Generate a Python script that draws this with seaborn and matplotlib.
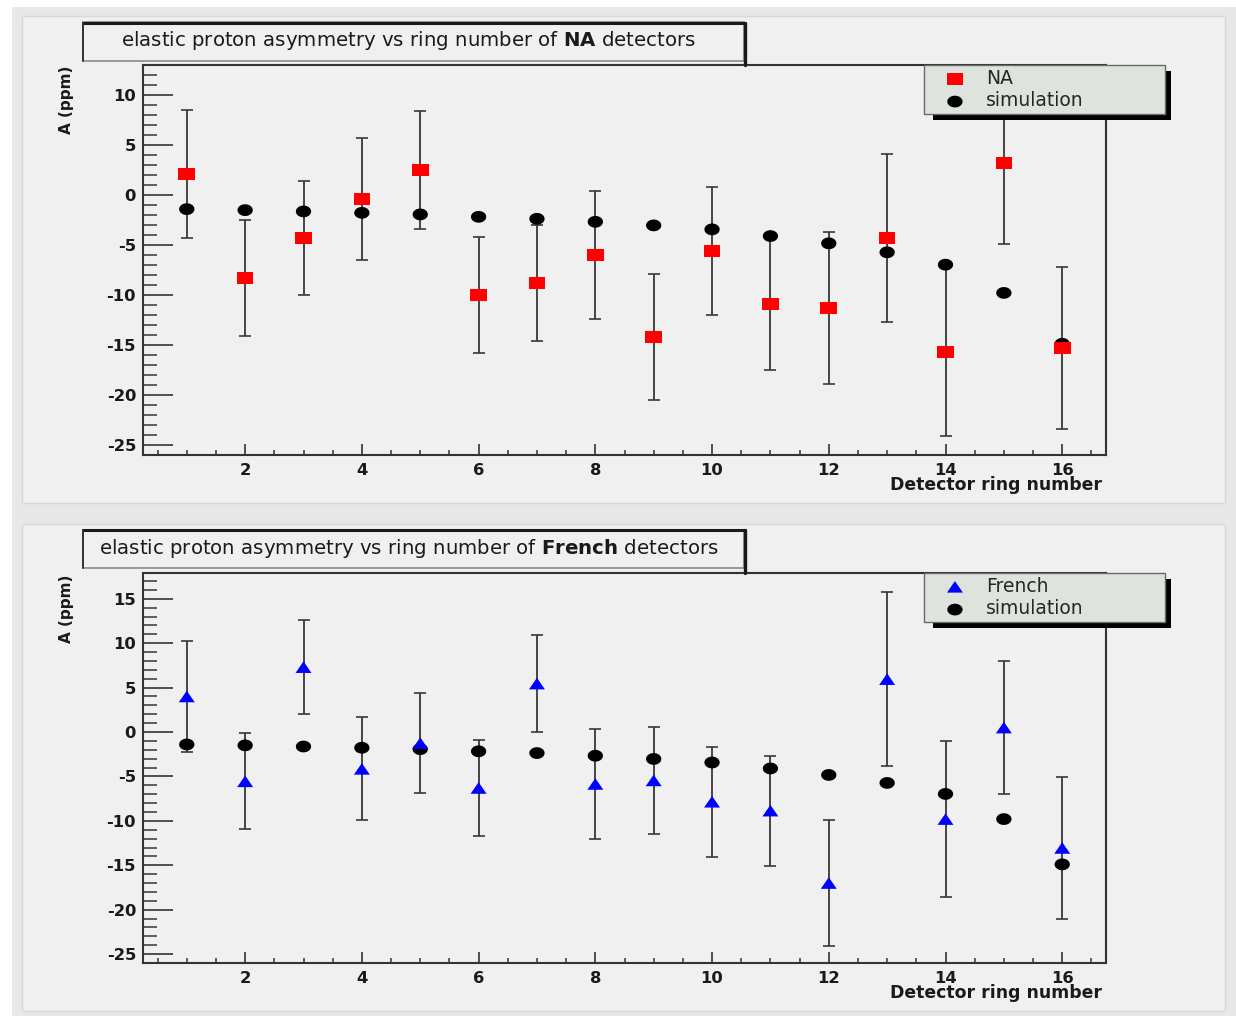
import numpy as np
import pandas as pd
import seaborn as sns
import matplotlib
matplotlib.use("Agg")
import matplotlib.pyplot as plt
from matplotlib.path import Path
from matplotlib.patches import Rectangle
from matplotlib.lines import Line2D
from matplotlib.ticker import MultipleLocator

# ---------------- data ----------------
rings = list(range(1, 17))
na_asym = [2.1, -8.3, -4.3, -0.4, 2.5, -10.0, -8.8, -6.0, -14.2, -5.6, -10.9, -11.3, -4.3, -15.7, 3.2, -15.3]
na_err = [6.4, 5.8, 5.7, 6.1, 5.9, 5.85, 5.8, 6.45, 6.3, 6.4, 6.6, 7.6, 8.4, 8.45, 8.1, 8.1]
french_asym = [4.0, -5.55, 7.3, -4.15, -1.25, -6.3, 5.45, -5.85, -5.45, -7.85, -8.85, -17.0, 5.95, -9.8, 0.5, -13.05]
french_err = [6.3, 5.4, 5.3, 5.8, 5.6, 5.4, 5.5, 6.2, 6.0, 6.2, 6.2, 7.1, 9.8, 8.8, 7.5, 8.0]
sim_asym = [-1.4, -1.5, -1.63, -1.77, -1.93, -2.17, -2.37, -2.67, -3.03, -3.43, -4.1, -4.83, -5.73, -6.97, -9.8, -14.9]

title_na = r"elastic proton asymmetry vs ring number of $\mathbf{NA}$ detectors"
title_fr = r"elastic proton asymmetry vs ring number of $\mathbf{French}$ detectors"
xlabel = "Detector ring number"
ylabel = "A (ppm)"

# ---------------- style ----------------
sns.set_style("ticks")
plt.rcParams["font.family"] = ["DejaVu Sans"]
plt.rcParams["mathtext.fontset"] = "dejavusans"
plt.rcParams["axes.unicode_minus"] = False

W, H = 1236, 1016
fig = plt.figure(figsize=(W / 100, H / 100), dpi=100, facecolor="white")


def fx(x):
    return x / W


def fy(y):
    return 1 - y / H


# horizontally stretched markers (reference is stretched ~1.3x)
t = np.linspace(0, 2 * np.pi, 64)
ell = np.c_[1.3 * np.cos(t), np.sin(t)]
circ_marker = Path(ell, closed=True)
sq_marker = Path([(-1.35, -1), (1.35, -1), (1.35, 1), (-1.35, 1), (-1.35, -1)], closed=True)
tri_marker = Path([(-1.38, -1), (1.38, -1), (0, 1), (-1.38, -1)], closed=True)

# canvas + pads
fig.add_artist(Rectangle((fx(12), 0), fx(W - 12), fy(7), transform=fig.transFigure,
                         facecolor="#e8e8e8", edgecolor="none", zorder=-10))
for top, bot in [(16, 503), (524, 1011)]:
    fig.add_artist(Rectangle((fx(22), fy(bot)), fx(1225 - 22), (bot - top) / H,
                             transform=fig.transFigure, facecolor="#f0f0f0",
                             edgecolor="#d8d8d8", linewidth=1, zorder=-9))

panels = [
    dict(top=65, bot=454.5, ylim=(-26, 13.05), data=na_asym, err=na_err, color="#ff0000",
         marker=sq_marker, ms=12, label="NA", title=title_na, tbox=(22.5, 60.5), ty=40.5,
         ylab_y=100, xlab_y=485),
    dict(top=573, bot=963, ylim=(-26, 17.9), data=french_asym, err=french_err, color="#0000ff",
         marker=tri_marker, ms=11.5, label="French", title=title_fr, tbox=(530, 568), ty=548,
         ylab_y=609, xlab_y=993),
]

for p in panels:
    ax = fig.add_axes([fx(143), fy(p["bot"]), fx(1106 - 143), (p["bot"] - p["top"]) / H])
    ax.set_facecolor("#f0f0f0")

    ax.errorbar(rings, p["data"], yerr=p["err"], fmt="none", ecolor="#383838",
                elinewidth=1.3, capsize=4, capthick=1.2, zorder=2)
    sns.scatterplot(x=rings, y=sim_asym, ax=ax, marker=circ_marker, s=11 ** 2,
                    color="black", edgecolor="none", linewidth=0, zorder=3)
    sim_handle = ax.collections[-1]
    sns.scatterplot(x=rings, y=p["data"], ax=ax, marker=p["marker"], s=p["ms"] ** 2,
                    color=p["color"], edgecolor="none", linewidth=0, zorder=4)
    data_handle = ax.collections[-1]

    ax.set_xlim(0.25, 16.75)
    ax.set_ylim(*p["ylim"])
    ax.set_xlabel("")
    ax.set_ylabel("")
    ax.xaxis.set_major_locator(MultipleLocator(2))
    ax.xaxis.set_minor_locator(MultipleLocator(0.5))
    ax.yaxis.set_major_locator(MultipleLocator(5))
    ax.yaxis.set_minor_locator(MultipleLocator(1))
    ax.tick_params(axis="y", which="major", direction="in", length=21.6, width=1.2,
                   color="#333333", pad=5, labelsize=11.8, labelcolor="#1a1a1a")
    ax.tick_params(axis="y", which="minor", direction="in", length=10, width=1.1, color="#333333")
    ax.tick_params(axis="x", which="major", direction="in", length=8, width=1.2,
                   color="#333333", pad=6, labelsize=11.8, labelcolor="#1a1a1a")
    ax.tick_params(axis="x", which="minor", direction="in", length=3.5, width=1.1, color="#333333")
    ax.tick_params(top=False, right=False, which="both")
    for lab in ax.get_xticklabels() + ax.get_yticklabels():
        lab.set_fontweight("bold")
    for sp in ax.spines.values():
        sp.set_visible(True)
        sp.set_color("#333333")
        sp.set_linewidth(1.5)

    leg = ax.legend([data_handle, sim_handle], [p["label"], "simulation"],
                    loc="upper left",
                    bbox_to_anchor=(fx(924), fy(p["top"] + 49), 241 / W, 49 / H),
                    bbox_transform=fig.transFigure, mode="expand", borderaxespad=0,
                    fontsize=13.5, scatterpoints=1, handlelength=2.9, handletextpad=0.2,
                    borderpad=0.2, labelspacing=0.2, fancybox=False, frameon=True)
    fr = leg.get_frame()
    fr.set_facecolor("#dfe3dd")
    fr.set_edgecolor("#6a6a6a")
    fr.set_linewidth(1.0)
    fr.set_alpha(1)
    leg.set_zorder(6)
    fig.canvas.draw()
    bb = leg.get_window_extent()
    ax.add_artist(Rectangle((bb.x0 + 9, bb.y0 - 6), bb.width - 3, bb.height, transform=None,
                            facecolor="black", edgecolor="none", zorder=5.9, clip_on=False))

    # title box
    t0, t1 = p["tbox"]
    fig.add_artist(Rectangle((fx(83), fy(t1)), fx(744 - 83), (t1 - t0) / H,
                             transform=fig.transFigure, facecolor="#f0f0f0",
                             edgecolor="#8a8a8a", linewidth=1.2, zorder=5))
    fig.add_artist(Line2D([fx(83), fx(745)], [fy(t0), fy(t0)], transform=fig.transFigure,
                          color="#1a1a1a", linewidth=2.2, zorder=6))
    fig.add_artist(Line2D([fx(745), fx(745)], [fy(t0), fy(p["top"])], transform=fig.transFigure,
                          color="#1a1a1a", linewidth=2.4, zorder=6))
    fig.add_artist(Line2D([fx(83), fx(83)], [fy(t0), fy(t1)], transform=fig.transFigure,
                          color="#333333", linewidth=1.4, zorder=6))
    fig.text(fx(409), fy(p["ty"]), p["title"], ha="center", va="center", fontsize=14.2,
             color="#1a1a1a", zorder=7)

    fig.text(fx(66), fy(p["ylab_y"]), ylabel, rotation=90, ha="center", va="center",
             fontsize=11, fontweight="bold", color="#1a1a1a")
    fig.text(fx(1102), fy(p["xlab_y"]), xlabel, ha="right", va="center",
             fontsize=12.4, fontweight="bold", color="#1a1a1a")

fig.savefig("out.png", dpi=100, facecolor=fig.get_facecolor())
